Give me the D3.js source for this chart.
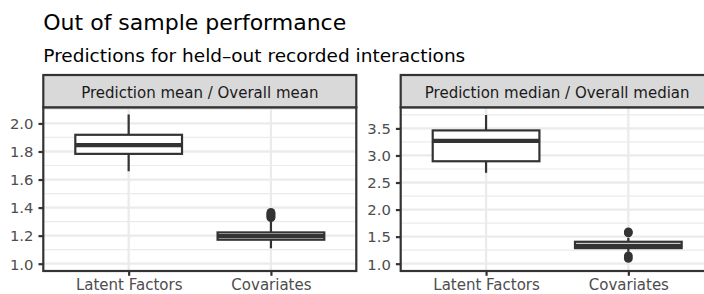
<!DOCTYPE html>
<html>
<head>
<meta charset="utf-8">
<script src="https://cdn.jsdelivr.net/npm/d3@7"></script>
<style>
  html, body { margin: 0; padding: 0; background: #ffffff; }
  svg { display: block; font-family: "DejaVu Sans", sans-serif; }
</style>
</head>
<body>
<svg id="chart" width="704" height="294"></svg>
<script>
// ---- data ----
const titleText = "Out of sample performance";
const subtitleText = "Predictions for held\u2013out recorded interactions";
const categories = ["Latent Factors", "Covariates"];
const panelTitles = ["Prediction mean / Overall mean", "Prediction median / Overall median"];

// boxplot stats per panel: [Latent Factors, Covariates]
const meanLow     = [1.659, 1.110];
const meanQ1      = [1.783, 1.171];
const meanMedian  = [1.845, 1.196];
const meanQ3      = [1.919, 1.223];
const meanHigh    = [2.064, 1.301];
const meanOutliers = [[], [1.328, 1.335, 1.342, 1.350, 1.358, 1.366]];

const medianLow     = [2.680, 1.220];
const medianQ1      = [2.893, 1.288];
const medianMedian  = [3.270, 1.328];
const medianQ3      = [3.463, 1.405];
const medianHigh    = [3.747, 1.478];
const medianOutliers = [[], [1.097, 1.143, 1.570, 1.588]];

const meanTicks = [1.0, 1.2, 1.4, 1.6, 1.8, 2.0];
const meanMinor = [1.1, 1.3, 1.5, 1.7, 1.9, 2.1];
const medianTicks = [1.0, 1.5, 2.0, 2.5, 3.0, 3.5];
const medianMinor = [1.25, 1.75, 2.25, 2.75, 3.25, 3.75];
const meanDomain = [0.948, 2.115];
const medianDomain = [0.865, 3.89];

function panelData(low, q1, med, q3, high, outl) {
  return categories.map((c, i) => ({cat: c, low: low[i], q1: q1[i], med: med[i], q3: q3[i], high: high[i], out: outl[i]}));
}
const panels = [
  {title: panelTitles[0], data: panelData(meanLow, meanQ1, meanMedian, meanQ3, meanHigh, meanOutliers),
   ticks: meanTicks, minor: meanMinor, domain: meanDomain, x0: 43.3},
  {title: panelTitles[1], data: panelData(medianLow, medianQ1, medianMedian, medianQ3, medianHigh, medianOutliers),
   ticks: medianTicks, minor: medianMinor, domain: medianDomain, x0: 400.7}
];

// ---- layout ----
const svg = d3.select("#chart");
const panelW = 313;
const stripTop = 75, stripBottom = 107.3, panelTop = 107.3, panelBottom = 271;
const ink = "#333333";
const lw = 2.2;

svg.append("text").attr("x", 43.3).attr("y", 29.5).attr("font-size", 22).attr("fill", "#000")
  .text(titleText);
svg.append("text").attr("x", 43.3).attr("y", 61.5).attr("font-size", 18.5).attr("fill", "#000")
  .text(subtitleText);

panels.forEach(p => {
  const g = svg.append("g");
  const x = d3.scalePoint().domain(categories).range([p.x0, p.x0 + panelW]).padding(0.6);
  const y = d3.scaleLinear().domain(p.domain).range([panelBottom, panelTop]);
  const step = x.step();
  const bw = step * 0.75;

  g.append("rect").attr("x", p.x0).attr("y", panelTop).attr("width", panelW).attr("height", panelBottom - panelTop)
    .attr("fill", "#fff");
  g.selectAll(".minor").data(p.minor.filter(v => v >= p.domain[0] && v <= p.domain[1])).join("line")
    .attr("x1", p.x0).attr("x2", p.x0 + panelW).attr("y1", d => y(d)).attr("y2", d => y(d))
    .attr("stroke", "#ebebeb").attr("stroke-width", 1.2);
  g.selectAll(".major").data(p.ticks).join("line")
    .attr("x1", p.x0).attr("x2", p.x0 + panelW).attr("y1", d => y(d)).attr("y2", d => y(d))
    .attr("stroke", "#ebebeb").attr("stroke-width", 2.3);
  g.selectAll(".vmajor").data(categories).join("line")
    .attr("x1", d => x(d)).attr("x2", d => x(d)).attr("y1", panelTop).attr("y2", panelBottom)
    .attr("stroke", "#ebebeb").attr("stroke-width", 2.3);

  const box = g.selectAll(".box").data(p.data).join("g");
  box.append("line").attr("x1", d => x(d.cat)).attr("x2", d => x(d.cat))
    .attr("y1", d => y(d.q3)).attr("y2", d => y(d.high)).attr("stroke", ink).attr("stroke-width", lw);
  box.append("line").attr("x1", d => x(d.cat)).attr("x2", d => x(d.cat))
    .attr("y1", d => y(d.q1)).attr("y2", d => y(d.low)).attr("stroke", ink).attr("stroke-width", lw);
  box.append("rect").attr("x", d => x(d.cat) - bw / 2).attr("width", bw)
    .attr("y", d => y(d.q3)).attr("height", d => y(d.q1) - y(d.q3))
    .attr("fill", "#fff").attr("stroke", ink).attr("stroke-width", lw);
  box.append("line").attr("x1", d => x(d.cat) - bw / 2).attr("x2", d => x(d.cat) + bw / 2)
    .attr("y1", d => y(d.med)).attr("y2", d => y(d.med)).attr("stroke", ink).attr("stroke-width", 4.2);
  box.each(function(d) {
    d3.select(this).selectAll("circle").data(d.out).join("circle")
      .attr("cx", x(d.cat)).attr("cy", v => y(v)).attr("r", 4.4).attr("fill", ink);
  });

  g.append("rect").attr("x", p.x0).attr("y", panelTop).attr("width", panelW).attr("height", panelBottom - panelTop)
    .attr("fill", "none").attr("stroke", ink).attr("stroke-width", lw);

  g.append("rect").attr("x", p.x0).attr("y", stripTop).attr("width", panelW).attr("height", stripBottom - stripTop)
    .attr("fill", "#d9d9d9").attr("stroke", ink).attr("stroke-width", lw);
  g.append("text").attr("x", p.x0 + panelW / 2).attr("y", 97.6)
    .attr("text-anchor", "middle").attr("font-size", 15).attr("fill", "#1a1a1a").text(p.title);

  const ya = g.append("g").attr("transform", `translate(${p.x0},0)`)
    .call(d3.axisLeft(y).tickValues(p.ticks).tickFormat(d3.format(".1f")).tickSize(4.8).tickPadding(5));
  ya.select(".domain").remove();
  ya.selectAll(".tick line").attr("stroke", ink).attr("stroke-width", lw);
  ya.selectAll(".tick text").attr("font-size", 14.8).attr("fill", "#4d4d4d")
    .attr("font-family", "DejaVu Sans, sans-serif").attr("dy", "0.36em");

  const xa = g.append("g").attr("transform", `translate(0,${panelBottom})`)
    .call(d3.axisBottom(x).tickSize(4.8));
  xa.select(".domain").remove();
  xa.selectAll(".tick line").attr("stroke", ink).attr("stroke-width", lw);
  xa.selectAll(".tick text").attr("font-size", 15).attr("fill", "#4d4d4d")
    .attr("font-family", "DejaVu Sans, sans-serif").attr("y", 19.4).attr("dy", 0);
});
</script>
</body>
</html>
